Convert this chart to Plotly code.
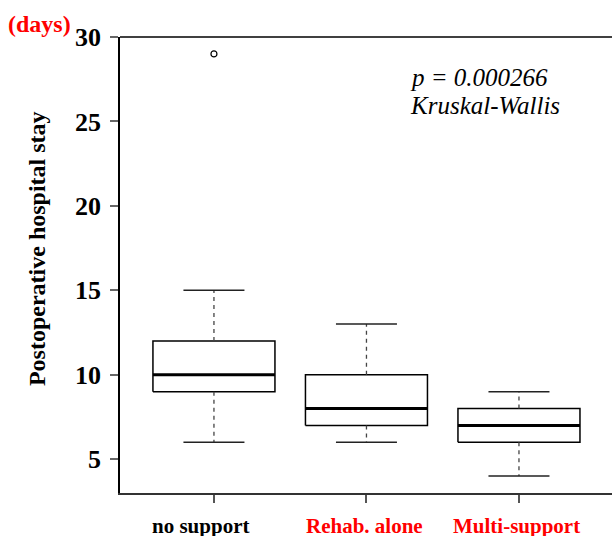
import plotly.graph_objects as go

categories = ["no support", "Rehab. alone", "Multi-support"]
label_colors = ["black", "red", "red"]
lower_whisker = [6, 6, 4]
q1 = [9, 7, 6]
median = [10, 8, 7]
q3 = [12, 10, 8]
upper_whisker = [15, 13, 9]
outliers_x = [1]
outliers_y = [29]
y_ticks = [5, 10, 15, 20, 25, 30]

BOX_HALF = 0.4
CAP_HALF = 0.2
SERIF = "Liberation Serif"
LABEL_XSHIFT = [-13, -2, -2]

fig = go.Figure()
positions = [i + 1 for i in range(len(categories))]

for p, lo, a, m, b, hi in zip(positions, lower_whisker, q1, median, q3, upper_whisker):
    fig.add_trace(go.Scatter(
        x=[p - BOX_HALF, p + BOX_HALF, p + BOX_HALF, p - BOX_HALF, p - BOX_HALF],
        y=[a, a, b, b, a], mode="lines",
        line=dict(color="black", width=1.5), hoverinfo="skip", showlegend=False))
    fig.add_trace(go.Scatter(
        x=[p - BOX_HALF, p + BOX_HALF], y=[m, m], mode="lines",
        line=dict(color="black", width=3), hoverinfo="skip", showlegend=False))
    fig.add_trace(go.Scatter(
        x=[p, p, None, p, p], y=[b, hi, None, a, lo], mode="lines",
        line=dict(color="#444444", width=1.3, dash="4px,4px"), hoverinfo="skip", showlegend=False))
    fig.add_trace(go.Scatter(
        x=[p - CAP_HALF, p + CAP_HALF, None, p - CAP_HALF, p + CAP_HALF],
        y=[hi, hi, None, lo, lo], mode="lines",
        line=dict(color="#222222", width=1.5), hoverinfo="skip", showlegend=False))

fig.add_trace(go.Scatter(
    x=outliers_x, y=outliers_y, mode="markers",
    marker=dict(symbol="circle-open", size=6, color="black", line=dict(width=1.2)),
    hoverinfo="skip", showlegend=False))

annotations = [
    dict(text="Postoperative hospital stay", xref="paper", yref="paper",
         x=(37 - 120) / 492, y=0.535, xanchor="center", yanchor="middle",
         textangle=-90, showarrow=False,
         font=dict(family=SERIF, size=24, color="black", weight="bold")),
    dict(text="(days)", xref="paper", yref="paper",
         x=(6 - 120) / 492, y=1.0285, xanchor="left", yanchor="middle",
         showarrow=False, font=dict(family=SERIF, size=24, color="red", weight="bold")),
    dict(text="p = 0.000266", xref="x", yref="y", x=2.272, y=27.63,
         xanchor="left", yanchor="middle", showarrow=False,
         font=dict(family=SERIF, size=25, color="black", style="italic")),
    dict(text="Kruskal-Wallis", xref="x", yref="y", x=2.272, y=25.97,
         xanchor="left", yanchor="middle", showarrow=False,
         font=dict(family=SERIF, size=25, color="black", style="italic")),
]
for p, t, c, dx in zip(positions, categories, label_colors, LABEL_XSHIFT):
    annotations.append(dict(text=t, xref="x", yref="paper", x=p, y=(493 - 526) / 456,
                            xanchor="center", yanchor="middle", xshift=dx, showarrow=False,
                            font=dict(family=SERIF, size=21, color=c, weight="bold")))

fig.update_layout(
    width=612, height=536,
    margin=dict(l=120, r=0, t=37, b=43, autoexpand=False),
    paper_bgcolor="white", plot_bgcolor="white",
    font=dict(family=SERIF, color="black"),
    xaxis=dict(range=[0.384, 3.61], tickvals=positions, showticklabels=False,
               showgrid=False, zeroline=False, showline=True, linecolor="#333333", linewidth=1.5,
               ticks="outside", ticklen=8, tickcolor="#555555", tickwidth=1.5, automargin=False),
    yaxis=dict(range=[3, 30], tickvals=y_ticks,
               showgrid=False, zeroline=False, showline=True, linecolor="black", linewidth=1.5,
               ticks="outside", ticklen=8, tickcolor="#666666", tickwidth=1.5,
               tickfont=dict(family=SERIF, size=26, color="black", weight="bold"),
               ticklabelstandoff=4, automargin=False),
    shapes=[dict(type="line", xref="paper", yref="paper", x0=0, x1=1, y0=1, y1=1,
                 line=dict(color="black", width=1.5))],
    annotations=annotations,
)

fig.write_html("out.html", config={"displayModeBar": False},
               post_script="document.body.style.margin='0';document.body.style.overflow='hidden';")
